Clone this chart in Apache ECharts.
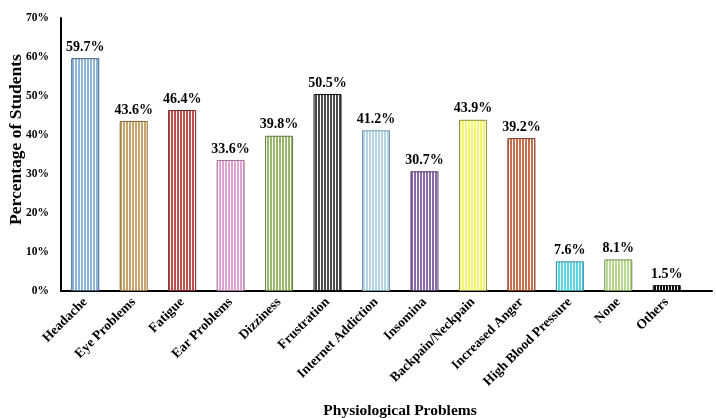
<!DOCTYPE html>
<html>
<head>
<meta charset="utf-8">
<script src="https://cdn.jsdelivr.net/npm/echarts@6/dist/echarts.min.js"></script>
<style>
  html, body { margin: 0; padding: 0; background: #fff; }
  #chart { width: 716px; height: 418px; }
</style>
</head>
<body>
<div id="chart"></div>
<script>
// Survey results: share of students reporting each physiological problem
const categories = ['Headache', 'Eye Problems', 'Fatigue', 'Ear Problems', 'Dizziness', 'Frustration',
  'Internet Addiction', 'Insomina', 'Backpain/Neckpain', 'Increased Anger', 'High Blood Pressure', 'None', 'Others'];
const percentages = [59.7, 43.6, 46.4, 33.6, 39.8, 50.5, 41.2, 30.7, 43.9, 39.2, 7.6, 8.1, 1.5];
const stripeColors = ['#8fb4d9', '#c9a46a', '#c0504d', '#e0a2d4', '#98b86a', '#4a4a4a',
  '#b4d6e4', '#8a6aa8', '#f7f56a', '#c86f4e', '#58d6e4', '#b7d98c', '#111111'];
const borderColors = ['#3f5f7f', '#8a6a3a', '#7a2a28', '#a0709a', '#5f7a3f', '#111111',
  '#6f98a8', '#4f3a6a', '#8f8f3a', '#7a3a22', '#2f8f9a', '#6f8f4f', '#111111'];
const yTicks = [0, 10, 20, 30, 40, 50, 60, 70];

const SERIF = '"Liberation Serif", "Times New Roman", serif';

// Vertical stripe fill for a bar
function stripes(color) {
  const c = document.createElement('canvas');
  c.width = 3; c.height = 6;
  const ctx = c.getContext('2d');
  ctx.fillStyle = '#ffffff';
  ctx.fillRect(0, 0, 3, 6);
  ctx.fillStyle = color;
  ctx.fillRect(0, 0, 2, 6);
  return { image: c, repeat: 'repeat' };
}

const chart = echarts.init(document.getElementById('chart'), null, { renderer: 'canvas' });

chart.setOption({
  animation: false,
  grid: [
    { left: 61, right: 25, top: 18, bottom: 127, outerBoundsMode: 'none', containLabel: false },
    { left: 61, right: 4, top: 18, bottom: 127, outerBoundsMode: 'none', containLabel: false }
  ],
  xAxis: [
    {
      type: 'category',
      data: categories,
      gridIndex: 0,
      axisLine: { show: false },
      axisTick: { show: false },
      axisLabel: {
        interval: 0,
        rotate: 45,
        margin: 9,
        color: '#000',
        fontFamily: SERIF,
        fontWeight: 'bold',
        fontSize: 13.5
      },
      name: 'Physiological Problems',
      nameLocation: 'middle',
      nameGap: 112,
      nameMoveOverlap: false,
      nameTextStyle: { color: '#000', fontFamily: SERIF, fontWeight: 'bold', fontSize: 15.5, padding: [0, 0, 0, 48] }
    },
    {
      // full-width baseline of the plot
      type: 'value',
      gridIndex: 1,
      min: 0, max: 1,
      axisLine: { show: true, onZero: false, lineStyle: { color: '#000', width: 2 } },
      axisTick: { show: false },
      axisLabel: { show: false },
      splitLine: { show: false }
    }
  ],
  yAxis: [
    {
      type: 'value',
      gridIndex: 0,
      min: yTicks[0],
      max: yTicks[yTicks.length - 1],
      interval: 10,
      axisLine: { show: true, lineStyle: { color: '#000', width: 2 } },
      axisTick: { show: false },
      splitLine: { show: false },
      axisLabel: {
        formatter: '{value}%',
        color: '#000',
        fontFamily: SERIF,
        fontWeight: 'bold',
        fontSize: 11.5,
        margin: 12
      },
      name: '{t|Percentage of Students}',
      nameLocation: 'middle',
      nameGap: 36,
      nameMoveOverlap: false,
      nameTextStyle: {
        color: '#000', fontFamily: SERIF, fontWeight: 'bold', fontSize: 17.5,
        rich: { t: { color: '#000', fontFamily: SERIF, fontWeight: 'bold', fontSize: 17.5, padding: [0, 0, 0, 30] } }
      }
    },
    {
      type: 'value',
      gridIndex: 1,
      show: false
    }
  ],
  series: [
    {
      type: 'bar',
      xAxisIndex: 0,
      yAxisIndex: 0,
      barWidth: 28,
      data: percentages.map((v, i) => ({
        value: v,
        itemStyle: {
          color: stripes(stripeColors[i]),
          borderColor: borderColors[i],
          borderWidth: 1
        }
      })),
      label: {
        show: true,
        position: 'top',
        distance: 4,
        formatter: p => p.value.toFixed(1) + '%',
        color: '#000',
        fontFamily: SERIF,
        fontWeight: 'bold',
        fontSize: 14
      }
    }
  ]
});
</script>
</body>
</html>
